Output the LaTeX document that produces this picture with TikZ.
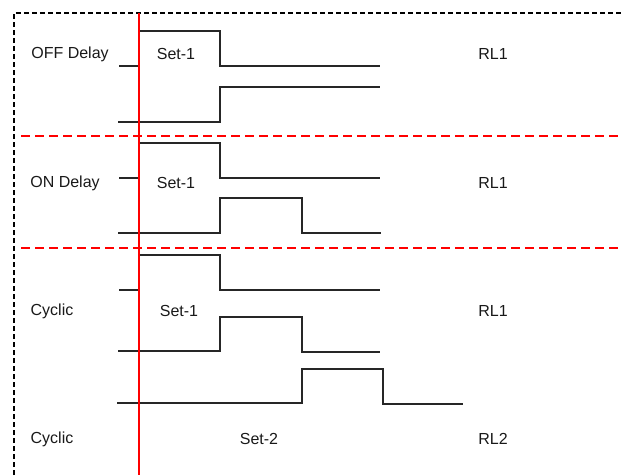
\documentclass[tikz,border=0pt]{standalone}
\usepackage{fontspec}
\setmainfont{Liberation Sans}
\usepackage{amsmath}

\begin{document}
\begin{tikzpicture}[x=0.75pt,y=0.75pt,yscale=-1,xscale=1,
  wave/.style={line width=1.1pt, color=black!85},
  sepline/.style={line width=2.2pt, color=red, dash pattern=on 7pt off 3.5pt},
  frameline/.style={line width=1.5pt, color=black, dash pattern=on 3.6pt off 2.4pt},
  triggerline/.style={line width=1.5pt, color=red},
  lbl/.style={inner sep=0.75pt, font=\fontsize{12}{14}\selectfont, text=black!90}]
  \useasboundingbox (0,0) rectangle (623,475);

  %Frame Lines
  \draw [frameline] (14,475) -- (14,13) -- (623,13) ;
  %Separator Lines
  \draw [sepline] (21,136) -- (623,136) ;
  \draw [sepline] (21,248) -- (623,248) ;

  %OFF Delay waveforms
  \draw [wave] (119,66) -- (139,66) -- (139,31) -- (220,31) -- (220,66) -- (380,66) ;
  \draw [wave] (118,122) -- (220,122) -- (220,87) -- (380,87) ;
  %ON Delay waveforms
  \draw [wave] (119,178) -- (139,178) -- (139,143) -- (220,143) -- (220,178) -- (380,178) ;
  \draw [wave] (118,233) -- (220,233) -- (220,198) -- (302,198) -- (302,233) -- (381,233) ;
  %Cyclic waveforms
  \draw [wave] (119,290) -- (139,290) -- (139,255) -- (220,255) -- (220,290) -- (380,290) ;
  \draw [wave] (118,351) -- (220,351) -- (220,317) -- (302,317) -- (302,352) -- (380,352) ;
  \draw [wave] (117,403) -- (302,403) -- (302,369) -- (383,369) -- (383,404) -- (463,404) ;

  %Trigger Line
  \draw [triggerline] (139,13) -- (139,475) ;

  % Text Node
  \node [lbl] (offdelay) at (70,54) {OFF Delay};
  \node [lbl] (offset) at (176,54) {Set-1};
  \node [lbl] (offrl) at (493,54) {RL1};
  % Text Node
  \node [lbl] (ondelay) at (65,183) {ON Delay};
  \node [lbl] (onset) at (176,183) {Set-1};
  \node [lbl] (onrl) at (493,183) {RL1};
  % Text Node
  \node [lbl] (cyclicA) at (52,311) {Cyclic};
  \node [lbl] (cyclicsetA) at (179,311) {Set-1};
  \node [lbl] (cyclicrlA) at (493,311) {RL1};
  % Text Node
  \node [lbl] (cyclicB) at (52,439) {Cyclic};
  \node [lbl] (cyclicsetB) at (259,439) {Set-2};
  \node [lbl] (cyclicrlB) at (493,439) {RL2};

\end{tikzpicture}
\end{document}
